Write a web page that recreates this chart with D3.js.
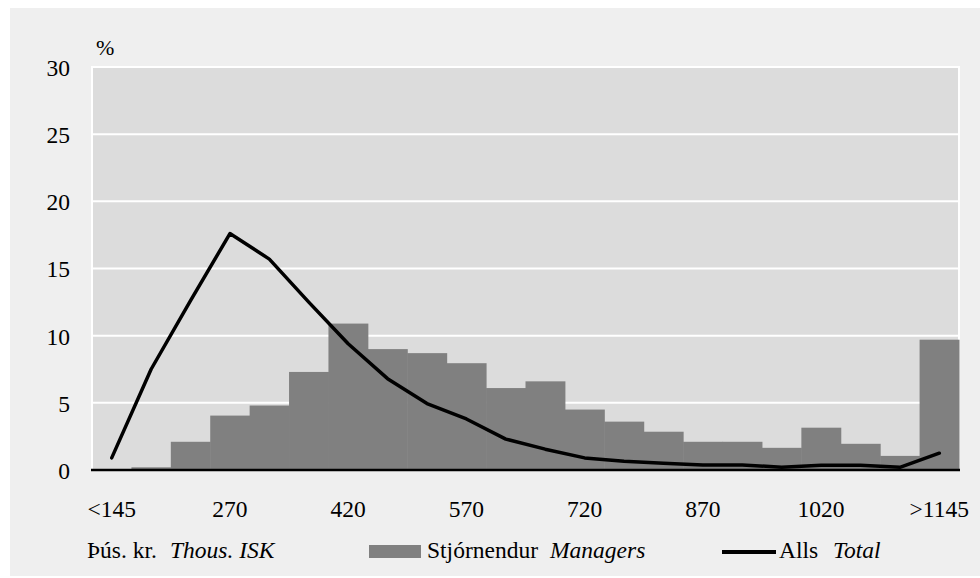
<!DOCTYPE html>
<html><head><meta charset="utf-8">
<script src="https://cdn.jsdelivr.net/npm/d3@7"></script>
<style>body{margin:0;background:#fff;}svg{display:block;font-family:"Liberation Serif","Times New Roman",serif;}</style>
</head><body>
<svg id="c" width="980" height="578"></svg>
<script>
const categories = ["<145","170","220","270","320","370","420","470","520","570","620","670","720","770","820","870","920","970","1020","1070","1120",">1145"];
const managers = [0,0.2,2.1,4.05,4.8,7.3,10.9,9.0,8.7,7.95,6.1,6.6,4.5,3.6,2.85,2.1,2.1,1.65,3.15,1.95,1.05,9.7];
const total = [0.9,7.5,12.6,17.6,15.7,12.5,9.4,6.8,4.95,3.8,2.3,1.55,0.9,0.65,0.5,0.38,0.38,0.2,0.36,0.36,0.2,1.25];
const tickLabels = ["<145","270","420","570","720","870","1020",">1145"];
const yTicks = [0,5,10,15,20,25,30];

const FS = 23.5;
const svg = d3.select("#c");
svg.append("rect").attr("x",10).attr("y",8).attr("width",970).attr("height",568).attr("fill","#efefef");

const L=92, R=959, T=67, B=470;
const x = d3.scaleBand().domain(categories).range([L,R]).padding(0);
const y = d3.scaleLinear().domain([0,30]).range([B,T]);

svg.append("rect").attr("x",L).attr("y",T).attr("width",R-L).attr("height",B-T).attr("fill","#dcdcdc")
  .attr("stroke","#fff").attr("stroke-width",2);

svg.append("g").selectAll("line").data(yTicks.filter(d=>d>0)).join("line")
  .attr("x1",L).attr("x2",R).attr("y1",d=>y(d)).attr("y2",d=>y(d))
  .attr("stroke","#fff").attr("stroke-width",2);

svg.append("g").selectAll("rect").data(managers).join("rect")
  .attr("x",(d,i)=>x(categories[i])).attr("width",x.bandwidth()+0.5)
  .attr("y",d=>y(d)).attr("height",d=>B-y(d)).attr("fill","#808080");

// y axis labels
const yAxis = d3.axisLeft(y).tickValues(yTicks).tickSize(0).tickPadding(0);
const gy = svg.append("g").attr("transform",`translate(${L-22},0)`).call(yAxis);
gy.select(".domain").remove();
gy.selectAll("text").attr("font-size",FS).attr("font-family","Liberation Serif").attr("fill","#000").attr("dy","0.36em");

// x axis
const xAxis = d3.axisBottom(x).tickValues(tickLabels).tickSize(0).tickPadding(0);
const gx = svg.append("g").attr("transform",`translate(0,${B})`).call(xAxis);
gx.select(".domain").remove();
gx.selectAll("text").attr("font-size",FS).attr("font-family","Liberation Serif").attr("fill","#000").attr("y",47).attr("dy",0);

svg.append("line").attr("x1",L-1).attr("x2",R+1).attr("y1",B).attr("y2",B).attr("stroke","#000").attr("stroke-width",2.5);

const line = d3.line().x((d,i)=>x(categories[i])+x.bandwidth()/2).y(d=>y(d));
svg.append("path").datum(total).attr("d",line).attr("fill","none").attr("stroke","#000").attr("stroke-width",3.5)
  .attr("stroke-linejoin","round").attr("stroke-linecap","round");

svg.append("text").attr("x",96).attr("y",55).attr("font-size",22).text("%");

// legend / axis unit
const lg = svg.append("g").attr("font-size",FS);
const t1 = lg.append("text").attr("x",87).attr("y",558);
t1.append("tspan").text("Þús. kr.");
t1.append("tspan").attr("x",170).attr("font-style","italic").text("Thous. ISK");
lg.append("rect").attr("x",369).attr("y",545).attr("width",52).attr("height",13).attr("fill","#808080");
const t2 = lg.append("text").attr("x",427).attr("y",558);
t2.append("tspan").text("Stjórnendur");
t2.append("tspan").attr("x",550).attr("font-style","italic").text("Managers");
lg.append("line").attr("x1",722).attr("x2",776).attr("y1",552).attr("y2",552).attr("stroke","#000").attr("stroke-width",4);
const t3 = lg.append("text").attr("x",779).attr("y",558);
t3.append("tspan").text("Alls");
t3.append("tspan").attr("x",833).attr("font-style","italic").text("Total");
</script>
</body></html>
